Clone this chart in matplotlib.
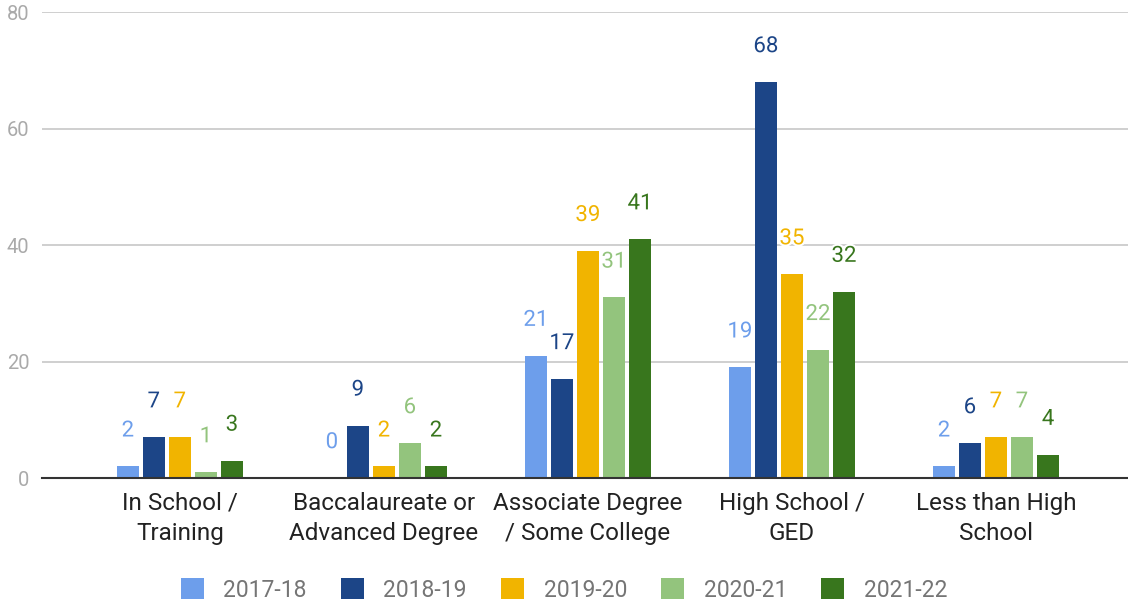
import matplotlib
matplotlib.use("Agg")
import matplotlib.pyplot as plt
import matplotlib.patheffects as pe
import numpy as np

plt.rcParams['font.family'] = ['Roboto', 'DejaVu Sans']

categories = ["In School /\nTraining", "Baccalaureate or\nAdvanced Degree",
              "Associate Degree\n/ Some College", "High School /\nGED",
              "Less than High\nSchool"]
series_names = ["2017-18", "2018-19", "2019-20", "2020-21", "2021-22"]
values = {
    "2017-18": [2, 0, 21, 19, 2],
    "2018-19": [7, 9, 17, 68, 6],
    "2019-20": [7, 2, 39, 35, 7],
    "2020-21": [1, 6, 31, 22, 7],
    "2021-22": [3, 2, 41, 32, 4],
}
colors = ["#6D9EEB", "#1C4587", "#F1B400", "#93C47D", "#38761D"]
yticks = [0, 20, 40, 60, 80]

fig = plt.figure(figsize=(11.28, 6.07), dpi=100)
ax = fig.add_axes([0.0372, 0.2125, 0.9628, 0.7675])

x = np.arange(len(categories))
step = 0.1275
width = 0.108
for i, (name, col) in enumerate(zip(series_names, colors)):
    xs = x + (i - 2) * step
    vals = values[name]
    ax.bar(xs, vals, width=width, color=col, label=name, zorder=3)
    for xi, v in zip(xs, vals):
        ax.annotate(str(v), (xi, v), xytext=(0, 21.5), textcoords="offset points",
                    ha="center", va="baseline", fontsize=16, color=col, zorder=5,
                    path_effects=[pe.withStroke(linewidth=3, foreground="white")])

ax.set_xlim(-0.676, 4.647)
ax.set_ylim(0, 80)
ax.set_yticks(yticks)
ax.set_yticklabels([str(t) for t in yticks], fontsize=14.5, color="#AAAAAA")
ax.set_xticks(x)
ax.set_xticklabels(categories, fontsize=17.5, color="#222222", linespacing=1.42)
ax.tick_params(axis="both", length=0)
ax.tick_params(axis="x", pad=10)
ax.tick_params(axis="y", pad=9)
ax.grid(axis="y", color="#CCCCCC", linewidth=1.3, zorder=0)
for s in ["top", "right", "left"]:
    ax.spines[s].set_visible(False)
ax.spines["bottom"].set_color("#333333")
ax.spines["bottom"].set_linewidth(1.5)
ax.spines["bottom"].set_zorder(4)

leg = fig.legend(loc="center", bbox_to_anchor=(0.5, 0.028), ncol=5, frameon=False,
                 fontsize=16.5, handlelength=1.0, handleheight=1.0, columnspacing=1.5,
                 handletextpad=0.85)
for t in leg.get_texts():
    t.set_color("#757575")

fig.savefig("out.png", dpi=100, facecolor="white")
